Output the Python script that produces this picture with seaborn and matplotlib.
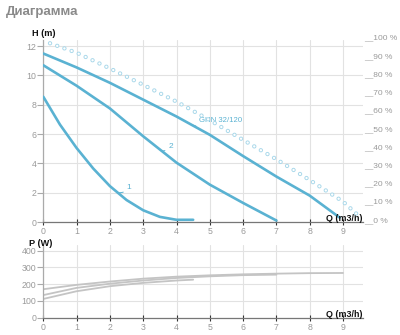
import matplotlib
matplotlib.use('Agg')
import matplotlib.pyplot as plt
import matplotlib.transforms as mtrans
import seaborn as sns

sns.set_style('white')
plt.rcParams['font.family'] = ['Liberation Sans', 'DejaVu Sans']
plt.rcParams['lines.scale_dashes'] = False

# ---------------- data ----------------
title = "Диаграмма"
q_ticks = [0, 1, 2, 3, 4, 5, 6, 7, 8, 9]
h_ticks = [0, 2, 4, 6, 8, 10, 12]
p_ticks = [0, 100, 200, 300, 400]
eff_ticks = [0, 10, 20, 30, 40, 50, 60, 70, 80, 90, 100]

# head curves (Q m3/h, H m)
q_ghn = [0, 1, 2, 3, 4, 5, 6, 7, 8, 8.9]
h_ghn = [11.5, 10.55, 9.5, 8.35, 7.2, 5.95, 4.5, 3.1, 1.8, 0.3]
q_s2 = [0, 1, 2, 3, 4, 5, 6, 7]
h_s2 = [10.7, 9.3, 7.75, 5.85, 4.05, 2.55, 1.3, 0.1]
q_s1 = [0, 0.5, 1, 1.5, 2, 2.5, 3, 3.5, 4, 4.5]
h_s1 = [8.55, 6.65, 5.05, 3.65, 2.45, 1.5, 0.8, 0.35, 0.15, 0.15]

# efficiency curve (%)
q_eff = [0.2, 1, 2, 3, 4, 5, 6, 7, 8, 9, 9.5]
eff = [98, 92.8, 84.2, 75.2, 66, 55.8, 45, 34.4, 23, 11.2, 2.9]

# power curves (W)
q_p3 = [0, 1, 2, 3, 4, 5, 6, 7, 8, 9]
p3 = [170, 196, 216, 233, 245, 253, 259, 263, 266, 267]
q_p2 = [0, 1, 2, 3, 4, 5, 6, 7]
p2 = [135, 178, 203, 222, 237, 247, 254, 257]
q_p1 = [0, 1, 2, 3, 4, 4.5]
p1 = [112, 158, 188, 208, 222, 227]

# ---------------- style ----------------
BLUE = '#5ab2d2'
DOT = '#a9d8ea'
GRID = '#e2e2e2'
TICK = '#9a9a9a'
GRAYLINE = '#c4c4c4'

W, H = 400.0, 335.0


def rect(left, top, right, bottom):
    return [left / W, 1 - bottom / H, (right - left) / W, (bottom - top) / H]


fig = plt.figure(figsize=(4, 3.35), dpi=100)
fig.patch.set_facecolor('white')

ax = fig.add_axes(rect(43.3, 39.6, 363, 222))
axp = fig.add_axes(rect(43.3, 245, 363, 317.7))


def style_axes(a):
    a.set_facecolor('white')
    for s in ['top', 'right']:
        a.spines[s].set_visible(False)
    a.spines['left'].set_color('#aaaaaa')
    a.spines['left'].set_linewidth(0.9)
    a.spines['bottom'].set_color('#777777')
    a.spines['bottom'].set_linewidth(0.9)
    a.grid(True, color=GRID, lw=0.8)
    a.set_axisbelow(True)
    a.tick_params(axis='x', direction='inout', length=4, width=0.8,
                  color='#333333', labelcolor=TICK, labelsize=6.3, pad=1.5,
                  bottom=True)
    a.tick_params(axis='y', direction='out', length=4, width=0.8,
                  color='#aaaaaa', labelcolor=TICK, labelsize=6.3, pad=1,
                  left=True)
    a.set_xlabel('')
    a.set_ylabel('')


# ---------- top: head ----------
sns.lineplot(x=q_ghn, y=h_ghn, ax=ax, color=BLUE, lw=1.9, legend=False, zorder=4)
sns.lineplot(x=q_s2, y=h_s2, ax=ax, color=BLUE, lw=1.9, legend=False, zorder=4)
sns.lineplot(x=q_s1, y=h_s1, ax=ax, color=BLUE, lw=1.9, legend=False, zorder=4)

ax.set_xlim(0, 9.6)
ax.set_ylim(0, 12.45)
ax.set_xticks(q_ticks)
ax.set_yticks(h_ticks)
style_axes(ax)

# efficiency axis (right)
ax2 = ax.twinx()
ax2.set_ylim(0, 100)
ax2.set_yticks([])
for s in ax2.spines.values():
    s.set_visible(False)
dash = (0, (0.1, 5.4))
sns.lineplot(x=q_eff, y=eff, ax=ax2, color=DOT, lw=3.1, linestyle=dash,
             dash_capstyle='round', legend=False)
sns.lineplot(x=q_eff, y=eff, ax=ax2, color='white', lw=1.7, linestyle=dash,
             dash_capstyle='round', legend=False)
ax2.set_xlabel('')
ax2.set_ylabel('')
trans = mtrans.blended_transform_factory(ax2.transAxes, ax2.transData)
for p in eff_ticks:
    ax2.text(1.002, p, f"__{p} %", transform=trans, ha='left', va='baseline',
             fontsize=6, color=TICK, clip_on=False)

# curve labels
ax.annotate('GHN 32/120', xy=(4.45, 6.65), xytext=(4.68, 6.96),
            textcoords='data', color=BLUE, fontsize=5.6, va='center', ha='left',
            arrowprops=dict(arrowstyle='-', color=BLUE, lw=0.7,
                            shrinkA=0, shrinkB=0,
                            connectionstyle='arc3,rad=-0.3'))
ax.annotate('2', xy=(3.56, 4.85), xytext=(3.75, 5.18),
            textcoords='data', color=BLUE, fontsize=6, va='center', ha='left',
            arrowprops=dict(arrowstyle='-', color=BLUE, lw=0.7,
                            shrinkA=0, shrinkB=0,
                            connectionstyle='arc3,rad=-0.3'))
ax.annotate('1', xy=(2.25, 2.0), xytext=(2.5, 2.36),
            textcoords='data', color=BLUE, fontsize=6, va='center', ha='left',
            arrowprops=dict(arrowstyle='-', color=BLUE, lw=0.7,
                            shrinkA=0, shrinkB=0,
                            connectionstyle='arc3,rad=-0.3'))

ax.text(0.0, 1.031, 'H (m)', transform=ax.transAxes, ha='center', va='center',
        fontsize=6.6, fontweight='bold', color='#111111')
ax.text(0.997, 0.006, 'Q (m3/h)', transform=ax.transAxes, ha='right',
        va='baseline', fontsize=6.4, fontweight='bold', color='#111111',
        zorder=6)

# ---------- bottom: power ----------
sns.lineplot(x=q_p3, y=p3, ax=axp, color=GRAYLINE, lw=1.3, legend=False)
sns.lineplot(x=q_p2, y=p2, ax=axp, color=GRAYLINE, lw=1.3, legend=False)
sns.lineplot(x=q_p1, y=p1, ax=axp, color=GRAYLINE, lw=1.3, legend=False)
axp.set_xlim(0, 9.6)
axp.set_ylim(0, 434)
axp.set_xticks(q_ticks)
axp.set_yticks(p_ticks)
style_axes(axp)

axp.text(-0.007, 1.027, 'P (W)', transform=axp.transAxes, ha='center',
         va='center', fontsize=6.6, fontweight='bold', color='#111111')
axp.text(0.997, 0.012, 'Q (m3/h)', transform=axp.transAxes, ha='right',
         va='baseline', fontsize=6.4, fontweight='bold', color='#111111')

fig.text(6 / W, 1 - 12.5 / H, title, ha='left', va='center', fontsize=9.5,
         fontweight='bold', color='#8a8a8a')

fig.savefig('out.png', dpi=100, facecolor='white')
